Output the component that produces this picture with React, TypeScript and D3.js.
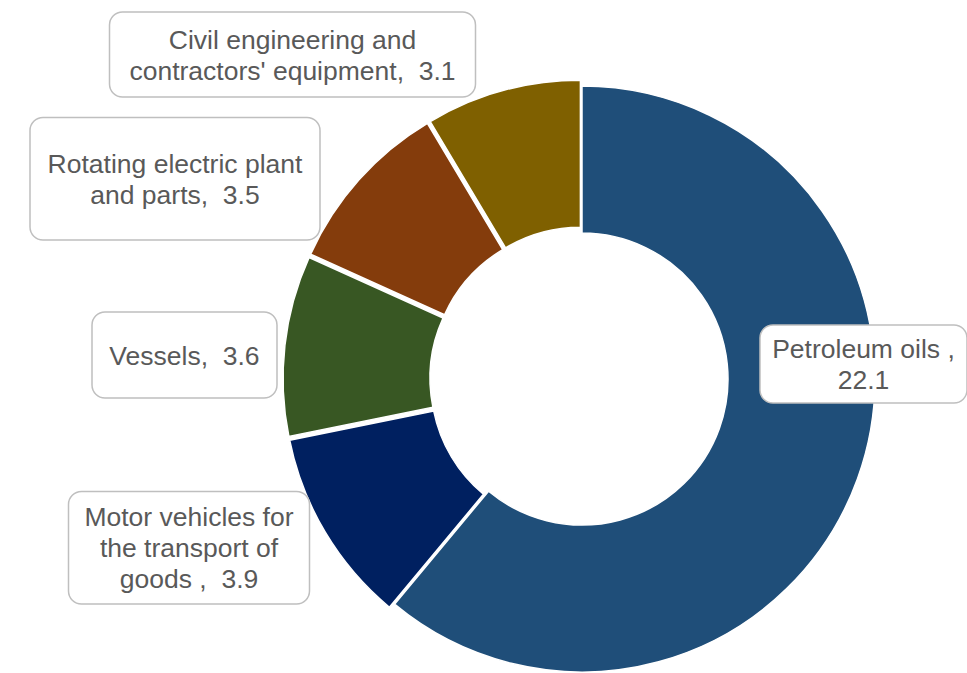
import React from "react";
import * as d3 from "d3";

// ---- data ----
const categories = [
  "Petroleum oils",
  "Motor vehicles for the transport of goods",
  "Vessels",
  "Rotating electric plant and parts",
  "Civil engineering and contractors' equipment",
];
const values = [22.1, 3.9, 3.6, 3.5, 3.1];
const colors = ["#1F4E79", "#002060", "#385723", "#843C0C", "#7F6000"];
// label text, wrapped as in the reference
const labelLines = [
  ["Petroleum oils ,"],
  ["Motor vehicles for", "the transport of", "goods ,"],
  ["Vessels,"],
  ["Rotating electric plant", "and parts,"],
  ["Civil engineering and", "contractors' equipment,"],
];
const valueOnOwnLine = [true, false, false, false, false];

// ---- layout (not data) ----
const W = 967;
const H = 673;
const CX = 582;
const CY = 379;
const R_OUT = 293;
const R_IN = 146;
const explode = [0, 6, 6, 6, 6];
const labelBoxes = [
  { x: 760, y: 325, w: 207, h: 78 },
  { x: 68.5, y: 491.5, w: 241, h: 112.5 },
  { x: 92, y: 312, w: 185, h: 86 },
  { x: 30, y: 117.5, w: 290, h: 122.5 },
  { x: 109.5, y: 12, w: 366, h: 85 },
];
const FONT = "'Liberation Sans', Arial, sans-serif";
const FS = 26.5;
const LH = 31;

export default function App() {
  const pie = d3
    .pie<number>()
    .sort(null)
    .startAngle(0)
    .endAngle(2 * Math.PI)
    .value((d) => d);
  const arcs = pie(values);
  const arc = d3.arc<d3.PieArcDatum<number>>().innerRadius(R_IN).outerRadius(R_OUT);

  return (
    <div style={{ position: "absolute", left: 0, top: 0 }}>
      <svg width={W} height={H} viewBox={`0 0 ${W} ${H}`} style={{ display: "block" }}>
        <rect x={0} y={0} width={W} height={H} fill="#ffffff" />
        <g transform={`translate(${CX},${CY})`}>
          {arcs.map((a, i) => {
            const mid = (a.startAngle + a.endAngle) / 2;
            const dx = Math.sin(mid) * explode[i];
            const dy = -Math.cos(mid) * explode[i];
            return (
              <path
                key={categories[i]}
                d={arc(a) || ""}
                transform={`translate(${dx},${dy})`}
                fill={colors[i]}
                stroke="#ffffff"
                strokeWidth={1.5}
                strokeLinejoin="miter"
              />
            );
          })}
        </g>
        {labelBoxes.map((b, i) => {
          const base = labelLines[i].slice();
          const vs = d3.format(".1f")(values[i]);
          let lines: string[];
          if (valueOnOwnLine[i]) lines = [...base, vs];
          else {
            lines = base.slice(0, -1);
            lines.push(base[base.length - 1] + "  " + vs);
          }
          const cx = b.x + b.w / 2;
          const cy = b.y + b.h / 2;
          const n = lines.length;
          return (
            <g key={"lbl" + i}>
              <rect
                x={b.x}
                y={b.y}
                width={b.w}
                height={b.h}
                rx={13}
                ry={13}
                fill="#ffffff"
                stroke="#BFBFBF"
                strokeWidth={1.5}
              />
              <text
                fontFamily={FONT}
                fontSize={FS}
                fill="#595959"
                textAnchor="middle"
                style={{ whiteSpace: "pre" }}
              >
                {lines.map((l, j) => (
                  <tspan key={j} x={cx} y={cy + (j - (n - 1) / 2) * LH + 9.5}>
                    {l}
                  </tspan>
                ))}
              </text>
            </g>
          );
        })}
      </svg>
    </div>
  );
}
